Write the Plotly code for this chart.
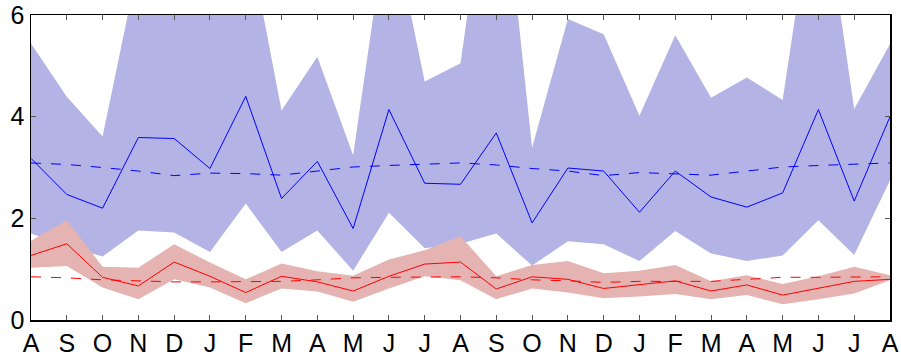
import plotly.graph_objects as go

months = ["A","S","O","N","D","J","F","M","A","M","J","J","A",
          "S","O","N","D","J","F","M","A","M","J","J","A"]

blue_line = [3.18, 2.47, 2.20, 3.59, 3.57, 2.98, 4.40, 2.39, 3.12, 1.80, 4.14, 2.69, 2.67,
             3.68, 1.91, 2.99, 2.93, 2.12, 2.93, 2.42, 2.22, 2.50, 4.14, 2.34, 4.00]
blue_clim = [3.09, 3.06, 3.00, 2.93, 2.84, 2.89, 2.88, 2.85, 2.93, 3.01, 3.04, 3.07, 3.09,
             3.05, 2.98, 2.93, 2.84, 2.90, 2.88, 2.85, 2.93, 3.01, 3.04, 3.07, 3.09]
blue_upper = [5.44, 4.39, 3.61, 7.0, 7.5, 7.0, 7.8, 4.12, 5.18, 3.24, 8.1, 4.69, 5.05,
              10.0, 3.39, 5.92, 5.62, 4.02, 5.60, 4.37, 4.77, 4.33, 9.0, 4.15, 5.43]
blue_lower = [1.70, 1.45, 1.25, 1.76, 1.72, 1.34, 2.29, 1.34, 1.76, 0.97, 2.11, 1.41, 1.50,
              1.70, 1.07, 1.55, 1.49, 1.16, 1.75, 1.31, 1.16, 1.27, 1.96, 1.28, 2.75]

red_line = [1.27, 1.50, 0.84, 0.67, 1.14, 0.86, 0.54, 0.86, 0.75, 0.57, 0.86, 1.10, 1.14,
            0.61, 0.85, 0.80, 0.62, 0.70, 0.77, 0.57, 0.69, 0.49, 0.62, 0.76, 0.80]
red_clim = [0.85, 0.83, 0.79, 0.77, 0.75, 0.75, 0.76, 0.76, 0.79, 0.83, 0.84, 0.85, 0.85,
            0.83, 0.79, 0.77, 0.74, 0.76, 0.76, 0.76, 0.80, 0.84, 0.84, 0.85, 0.85]
red_upper = [1.56, 1.96, 1.05, 1.03, 1.49, 1.13, 0.80, 1.11, 0.96, 0.87, 1.19, 1.37, 1.65,
             0.86, 1.08, 1.16, 0.92, 0.97, 1.08, 0.76, 0.88, 0.71, 0.86, 1.05, 0.88]
red_lower = [1.03, 1.06, 0.64, 0.41, 0.80, 0.64, 0.33, 0.62, 0.56, 0.36, 0.62, 0.86, 0.78,
             0.41, 0.62, 0.54, 0.43, 0.46, 0.51, 0.41, 0.49, 0.31, 0.41, 0.52, 0.78]

x = list(range(len(months)))

BLUE_BAND = "#b3b3e5"
RED_BAND = "#e6b3b3"

fig = go.Figure()
fig.add_trace(go.Scatter(x=x, y=blue_lower, mode="lines", line=dict(width=0),
                         showlegend=False, hoverinfo="skip"))
fig.add_trace(go.Scatter(x=x, y=blue_upper, mode="lines", line=dict(width=0),
                         fill="tonexty", fillcolor=BLUE_BAND, showlegend=False))
fig.add_trace(go.Scatter(x=x, y=red_lower, mode="lines", line=dict(width=0),
                         showlegend=False, hoverinfo="skip"))
fig.add_trace(go.Scatter(x=x, y=red_upper, mode="lines", line=dict(width=0),
                         fill="tonexty", fillcolor=RED_BAND, showlegend=False))
fig.add_trace(go.Scatter(x=x, y=blue_clim, mode="lines",
                         line=dict(color="#0000ff", width=1, dash="10px,10px"), showlegend=False))
fig.add_trace(go.Scatter(x=x, y=red_clim, mode="lines",
                         line=dict(color="#ff0000", width=1, dash="10px,10px"), showlegend=False))
fig.add_trace(go.Scatter(x=x, y=blue_line, mode="lines",
                         line=dict(color="#0000ff", width=1), showlegend=False))
fig.add_trace(go.Scatter(x=x, y=red_line, mode="lines",
                         line=dict(color="#ff0000", width=1), showlegend=False))

axis_common = dict(showgrid=False, zeroline=False, showline=True, linecolor="black",
                   linewidth=1.5, mirror="ticks", ticks="inside", ticklen=5,
                   tickcolor="#555555", tickwidth=1, automargin=False,
                   tickfont=dict(family="Liberation Sans, Arial, sans-serif", size=25, color="black"))

fig.update_xaxes(range=[0, 24], tickvals=x, ticktext=months, **axis_common)
fig.update_yaxes(range=[0, 6], tickvals=[0, 2, 4, 6], ticktext=["0", "2", "4", "6"],
                 **axis_common)

fig.update_layout(width=901, height=356, margin=dict(l=31, r=11, t=15, b=36),
                  plot_bgcolor="white", paper_bgcolor="white", showlegend=False)

fig.write_html("out.html", config={"displayModeBar": False, "staticPlot": True},
               post_script="document.body.style.margin='0';document.body.style.overflow='hidden';")
